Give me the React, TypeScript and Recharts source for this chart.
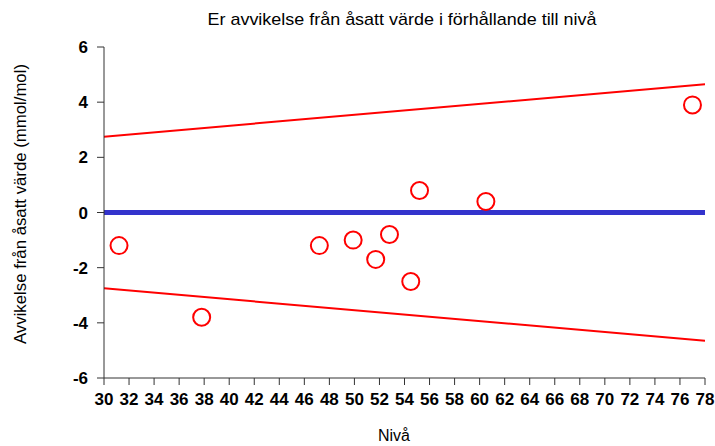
import React from "react";
import { ComposedChart, Scatter, Line, XAxis, YAxis } from "recharts";

const xTicks = [30, 32, 34, 36, 38, 40, 42, 44, 46, 48, 50, 52, 54, 56, 58, 60, 62, 64, 66, 68, 70, 72, 74, 76, 78];
const yTicks = [-6, -4, -2, 0, 2, 4, 6];

const pointX = [31.2, 37.8, 47.2, 49.9, 51.7, 52.8, 54.5, 55.2, 60.5, 77.0];
const pointY = [-1.2, -3.8, -1.2, -1.0, -1.7, -0.8, -2.5, 0.8, 0.4, 3.9];

const limitX = [30, 78];
const upperLimit = [2.75, 4.65];
const lowerLimit = [-2.75, -4.65];
const zeroLine = [0, 0];

const titleText = "Er avvikelse från åsatt värde i förhållande till nivå";
const xLabelText = "Nivå";
const yLabelText = "Avvikelse från åsatt värde  (mmol/mol)";

const points = pointX.map((x, i) => ({ x, y: pointY[i] }));
const upper = limitX.map((x, i) => ({ x, y: upperLimit[i] }));
const lower = limitX.map((x, i) => ({ x, y: lowerLimit[i] }));
const zero = limitX.map((x, i) => ({ x, y: zeroLine[i] }));

const sans = "'Liberation Sans', Arial, sans-serif";
const tickFont = { fontFamily: sans, fontWeight: "bold", fontSize: 17, fill: "#000" };

const Ring = (props: any) => {
  const { cx, cy } = props;
  if (cx == null || cy == null) return null;
  return <circle cx={cx} cy={cy} r={8.5} fill="none" stroke="#ff0000" strokeWidth={2} />;
};

export default function App() {
  return (
    <div style={{ position: "absolute", left: 0, top: 0, width: 715, height: 446, background: "#fff" }}>
      <ComposedChart width={715} height={446} margin={{ top: 47, right: 10, bottom: 0, left: 0 }}>
        <text
          x={402}
          y={25}
          textAnchor="middle"
          fontFamily={sans}
          fontSize={17}
          fill="#000"
          textLength={389}
          lengthAdjust="spacingAndGlyphs"
        >
          {titleText}
        </text>
        <text
          x={394}
          y={441}
          textAnchor="middle"
          fontFamily={sans}
          fontSize={16}
          fill="#000"
          textLength={32}
          lengthAdjust="spacingAndGlyphs"
        >
          {xLabelText}
        </text>
        <text
          x={0}
          y={0}
          transform="translate(26,204) rotate(-90)"
          textAnchor="middle"
          fontFamily={sans}
          fontSize={17}
          fill="#000"
          textLength={280}
          lengthAdjust="spacingAndGlyphs"
        >
          {yLabelText}
        </text>
        <XAxis
          dataKey="x"
          type="number"
          domain={[30, 78]}
          ticks={xTicks}
          interval={0}
          allowDataOverflow
          height={68}
          tickSize={7}
          tickMargin={8}
          stroke="#333"
          tick={tickFont}
        />
        <YAxis
          dataKey="y"
          type="number"
          domain={[-6, 6]}
          ticks={yTicks}
          interval={0}
          allowDataOverflow
          width={104}
          tickSize={7}
          tickMargin={9}
          stroke="#333"
          tick={tickFont}
        />
        <Line data={upper} dataKey="y" stroke="#ff0000" strokeWidth={2} dot={false} isAnimationActive={false} />
        <Line data={lower} dataKey="y" stroke="#ff0000" strokeWidth={2} dot={false} isAnimationActive={false} />
        <Line data={zero} dataKey="y" stroke="#3333cc" strokeWidth={5} strokeLinecap="round" dot={false} isAnimationActive={false} />
        <Scatter data={points} dataKey="y" shape={<Ring />} isAnimationActive={false} />
      </ComposedChart>
    </div>
  );
}
